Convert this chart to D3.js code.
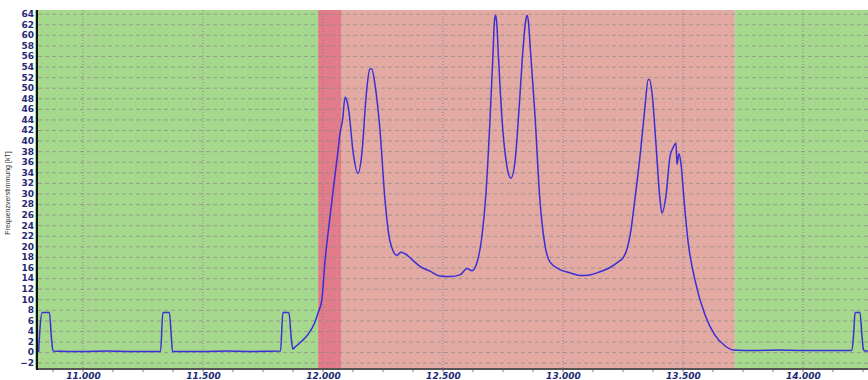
<!DOCTYPE html>
<html>
<head>
<meta charset="utf-8">
<script src="https://cdn.jsdelivr.net/npm/d3@7"></script>
<style>
  body { margin: 0; background: #fff; }
  .yTick text { font-family: "DejaVu Sans", sans-serif; font-weight: bold; font-size: 9px; fill: #1f2a78; }
  .xTick text { font-family: "DejaVu Sans", sans-serif; font-weight: bold; font-style: italic; font-size: 9px; fill: #1f2a78; }
</style>
</head>
<body>
<div id="chart"></div>
<script>
var width = 868;
var height = 380;

var margin = { "top": 10, "bottom": 11, "left": 38, "right": 0 };

// zones along the x axis (start, end)
var greenZones = [[10.80, 11.98], [13.716, 14.30]];
var redZones = [[11.98, 13.716]];
var darkRedZones = [[11.98, 12.075]];

var yTicks = [-2, 0, 2, 4, 6, 8, 10, 12, 14, 16, 18, 20, 22, 24, 26, 28, 30, 32, 34, 36, 38, 40, 42, 44, 46, 48, 50, 52, 54, 56, 58, 60, 62, 64];
var xTicks = [11.0, 11.5, 12.0, 12.5, 13.0, 13.5, 14.0];
var yTitle = "Frequenzverstimmung [kT]";

// measured curve
var xValues = [10.815, 10.820, 10.830, 10.860, 10.868, 10.875, 11.000, 11.100, 11.200, 11.323,
               11.333, 11.360, 11.368, 11.373, 11.500, 11.600, 11.700, 11.823, 11.833, 11.858,
               11.867, 11.874, 11.885, 11.910, 11.940, 11.965, 11.980, 11.995, 12.008, 12.025,
               12.042, 12.0625, 12.071, 12.082, 12.092, 12.100, 12.108, 12.125, 12.146, 12.163,
               12.179, 12.195, 12.203, 12.217, 12.2375, 12.258, 12.279, 12.308, 12.325, 12.342, 12.371,
               12.404, 12.446, 12.4875, 12.529, 12.571, 12.600, 12.621, 12.642, 12.6625, 12.679,
               12.696, 12.708, 12.714, 12.719, 12.724, 12.731, 12.746, 12.767, 12.783, 12.800, 12.817, 12.833,
               12.844, 12.850, 12.856, 12.8645, 12.883, 12.904, 12.925, 12.946, 12.9875, 13.029, 13.071, 13.1125,
               13.154, 13.196, 13.229, 13.250, 13.267, 13.283, 13.300, 13.321, 13.342, 13.355, 13.361,
               13.371, 13.388, 13.404, 13.4125, 13.429, 13.446, 13.458, 13.471, 13.475, 13.483,
               13.492, 13.504, 13.521, 13.550, 13.592, 13.633, 13.675, 13.708, 13.800, 13.900,
               14.000, 14.100, 14.204, 14.212, 14.217, 14.2375, 14.246, 14.252, 14.258, 14.270];
var yValues = [0.0, 4.0, 7.5, 7.5, 3.0, 0.2, 0.1, 0.2, 0.1, 0.1,
               7.5, 7.5, 3.0, 0.1, 0.1, 0.2, 0.1, 0.2, 7.5, 7.5,
               3.0, 0.6, 1.0, 2.0, 3.5, 5.5, 7.5, 9.8, 17.0, 24.0,
               30.5, 38.0, 41.4, 44.0, 48.2, 47.5, 45.5, 38.0, 33.8, 38.0,
               48.0, 53.5, 53.6, 50.5, 42.0, 29.0, 21.0, 18.3, 18.9, 18.6, 17.5,
               16.2, 15.3, 14.4, 14.3, 14.6, 15.8, 15.4, 17.0, 22.0, 30.0,
               44.0, 56.0, 62.3, 63.7, 62.3, 56.0, 44.0, 35.0, 32.9, 36.0, 46.0, 57.0,
               62.5, 63.7, 62.5, 57.0, 45.0, 28.7, 20.2, 17.0, 15.6, 15.0, 14.5, 14.6,
               15.2, 16.0, 17.0, 17.8, 19.5, 23.0, 29.0, 37.0, 46.5, 51.5, 51.5,
               49.0, 39.0, 29.0, 26.3, 29.5, 37.0, 38.6, 39.5, 35.5, 37.5,
               35.5, 29.0, 21.0, 13.6, 7.0, 3.2, 1.2, 0.4, 0.3, 0.4,
               0.3, 0.3, 0.3, 4.0, 7.5, 7.5, 3.0, 0.5, 0.2, 0.2];

var series = xValues.map(function(x, i) { return { x: x, y: yValues[i] }; });

var innerW = width - margin.left - margin.right;
var innerH = height - margin.top - margin.bottom;

var svg = d3.select("#chart")
            .append("svg")
            .attr("width", width)
            .attr("height", height);

var plot = svg.append("g")
              .attr("transform", "translate(" + margin.left + "," + margin.top + ")");

var scaleX = d3.scaleLinear().domain([10.8125, 14.271]).range([0, innerW]);
var scaleY = d3.scaleLinear().domain([-3.2, 64.7]).range([innerH, 0]);

// background zones
function drawZones(zones, color) {
  plot.append("g").selectAll("rect")
      .data(zones)
      .enter()
      .append("rect")
      .attr("x", function(d) { return scaleX(d[0]) })
      .attr("y", 0)
      .attr("width", function(d) { return scaleX(d[1]) - scaleX(d[0]) })
      .attr("height", innerH)
      .attr("fill", color);
}
drawZones(greenZones, "#a6d88e");
drawZones(redZones, "#e2aaa3");
drawZones(darkRedZones, "#e27b8a");

// horizontal grid + y labels
var yAxis = d3.axisLeft(scaleY)
              .tickValues(yTicks)
              .tickSizeInner(-innerW)
              .tickSizeOuter(0)
              .tickPadding(4);

var gy = plot.append("g").attr("class", "yTick").call(yAxis);
gy.select(".domain").remove();
gy.selectAll("line")
  .attr("stroke", "#8a8a8a")
  .attr("stroke-opacity", 0.7)
  .attr("stroke-dasharray", "4,3");

// vertical grid
plot.append("g").selectAll("line")
    .data(xTicks)
    .enter()
    .append("line")
    .attr("x1", function(d) { return scaleX(d) })
    .attr("x2", function(d) { return scaleX(d) })
    .attr("y1", 0)
    .attr("y2", innerH)
    .attr("stroke", "#7a7a7a")
    .attr("stroke-opacity", 0.8)
    .attr("stroke-dasharray", "1,2");

// x axis labels
var xAxis = d3.axisBottom(scaleX)
              .tickValues(xTicks)
              .tickFormat(d3.format(".3f"))
              .tickSizeInner(0)
              .tickSizeOuter(0)
              .tickPadding(4);

var gx = plot.append("g")
             .attr("class", "xTick")
             .attr("transform", "translate(0," + innerH + ")")
             .call(xAxis);
gx.select(".domain").remove();

// minor ticks
var minorTicks = d3.range(10.875, 14.3, 0.125);
plot.append("g").selectAll("line")
    .data(minorTicks)
    .enter()
    .append("line")
    .attr("x1", function(d) { return scaleX(d) })
    .attr("x2", function(d) { return scaleX(d) })
    .attr("y1", innerH)
    .attr("y2", innerH + 3)
    .attr("stroke", "#777");

// curve
var line = d3.line()
             .x(function(d) { return scaleX(d.x) })
             .y(function(d) { return scaleY(d.y) })
             .curve(d3.curveMonotoneX);

plot.append("path")
    .datum(series)
    .attr("d", line)
    .attr("fill", "none")
    .attr("stroke", "#3b2ed6")
    .attr("stroke-width", 1.5);

// axis lines
plot.append("line")
    .attr("x1", 0).attr("x2", innerW)
    .attr("y1", innerH).attr("y2", innerH)
    .attr("stroke", "#555")
    .attr("stroke-width", 2);

plot.append("line")
    .attr("x1", -1).attr("x2", -1)
    .attr("y1", 0).attr("y2", innerH + 1)
    .attr("stroke", "#111")
    .attr("stroke-width", 2);

// y title
svg.append("text")
   .attr("transform", "translate(10,193) rotate(-90)")
   .attr("text-anchor", "middle")
   .attr("font-family", "Liberation Sans, sans-serif")
   .attr("font-size", "7px")
   .attr("fill", "#333")
   .text(yTitle);
</script>
</body>
</html>
